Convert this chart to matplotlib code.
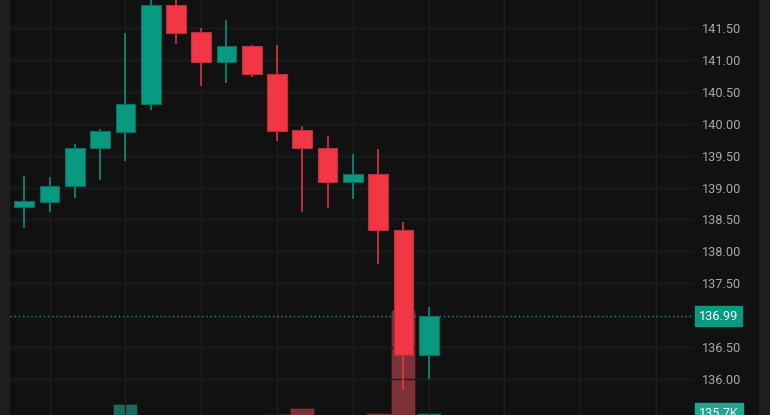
import matplotlib
matplotlib.use("Agg")
import matplotlib.pyplot as plt
from matplotlib.patches import Rectangle
import numpy as np

# --- data ---
opens = [138.70, 138.78, 139.02, 139.61, 139.86, 140.31, 141.85, 141.43, 140.96,
         141.21, 140.78, 139.90, 139.62, 139.09, 139.21, 138.33, 136.38]
highs = [139.18, 139.16, 139.68, 139.91, 141.41, 141.98, 141.96, 141.50, 141.62,
         141.23, 141.23, 139.96, 139.80, 139.52, 139.60, 138.46, 137.13]
lows = [138.36, 138.61, 138.84, 139.11, 139.41, 140.21, 141.25, 140.58, 140.64,
        140.73, 139.73, 138.61, 138.68, 138.82, 137.81, 135.83, 136.01]
closes = [138.79, 139.02, 139.62, 139.88, 140.30, 141.85, 141.42, 140.96, 141.21,
          140.77, 139.89, 139.61, 139.09, 139.21, 138.33, 136.38, 136.99]
# volume in thousands
volumes = [95, 88, 110, 92, 181, 120, 105, 98, 84, 90, 132, 161, 118, 100, 139, 660, 135.7]

price_ticks = [136.00, 136.50, 137.50, 138.00, 138.50, 139.00, 139.50,
               140.00, 140.50, 141.00, 141.50]
last_price = 136.99
last_volume_label = "135.7K"

# --- colours ---
BG = "#111111"
STRIP = "#1e1e1e"
GRID = "#1e1e1e"
UP = "#089981"
DOWN = "#f23645"
UP_VOL = "#1f6a5e"
DOWN_VOL = "#7b3236"

plt.rcParams["font.family"] = ["Roboto", "DejaVu Sans"]

W, H = 770, 415
fig = plt.figure(figsize=(W / 100, H / 100), dpi=100, facecolor=BG)

rect = [10 / W, 0, (693 - 10) / W, 1]
ax_vol = fig.add_axes(rect)
ax = fig.add_axes(rect)

x = np.arange(len(opens))
xlim = (-0.566, 26.46)

# volume pane (mostly below the visible area)
ax_vol.set_facecolor(BG)
vol_colors = [UP_VOL if c >= o else DOWN_VOL for o, c in zip(opens, closes)]
ax_vol.bar(x, volumes, width=0.95, color=vol_colors, edgecolor="#00000040", linewidth=0.6)
ax_vol.set_xlim(*xlim)
ax_vol.set_ylim(127, 2235)
ax_vol.axis("off")

# price pane on top
ax.set_zorder(ax_vol.get_zorder() + 1)
ax.patch.set_visible(False)
ax.set_xlim(*xlim)
ax.set_ylim(135.445, 141.93)

ax.set_yticks(price_ticks)
ax.set_yticklabels([f"{t:.2f}" for t in price_ticks])
ax.yaxis.tick_right()
ax.tick_params(axis="y", length=0, pad=6.5, labelsize=9.2, colors="#a8a8a8")
ax.set_xticks(x[1::3].tolist() + [19, 22, 25])
ax.tick_params(axis="x", length=0, labelbottom=False)
ax.grid(True, color=GRID, linewidth=1)
ax.set_axisbelow(True)
for s in ax.spines.values():
    s.set_visible(False)

# last price line
ax.axhline(last_price, color=UP, linestyle=(0, (1, 2)), linewidth=1, zorder=2)

# candles
colors = [UP if c >= o else DOWN for o, c in zip(opens, closes)]
edge = ["#0b6f5f" if c >= o else "#b8323c" for o, c in zip(opens, closes)]
ax.vlines(x, lows, highs, colors=colors, linewidth=1.1, zorder=3)
bodies = np.array(closes) - np.array(opens)
ax.bar(x, bodies, bottom=opens, width=0.78, color=colors, edgecolor=edge,
       linewidth=0.8, zorder=4)

# price label on the axis
ax.annotate(f"{last_price:.2f}", xy=(1, last_price), xycoords=("axes fraction", "data"),
            xytext=(4.5, 0), textcoords="offset points", ha="left", va="center",
            fontsize=9.2, color="white",
            bbox=dict(boxstyle="square,pad=0.3", facecolor=UP, edgecolor=UP),
            annotation_clip=False, zorder=6)

# volume label
ax_vol.annotate(last_volume_label, xy=(1, volumes[-1]), xycoords=("axes fraction", "data"),
                xytext=(4.5, 0), textcoords="offset points", ha="left", va="center",
                fontsize=9.2, color="white",
                bbox=dict(boxstyle="square,pad=0.3", facecolor="#22a58e", edgecolor="#22a58e"),
                annotation_clip=False, zorder=6)

# side strips
fig.patches.append(Rectangle((0, 0), 10 / W, 1, transform=fig.transFigure,
                             facecolor=STRIP, edgecolor="none", zorder=0))
fig.patches.append(Rectangle((759 / W, 0), 11 / W, 1, transform=fig.transFigure,
                             facecolor=STRIP, edgecolor="none", zorder=0))

fig.savefig("out.png", dpi=100, facecolor=BG)
